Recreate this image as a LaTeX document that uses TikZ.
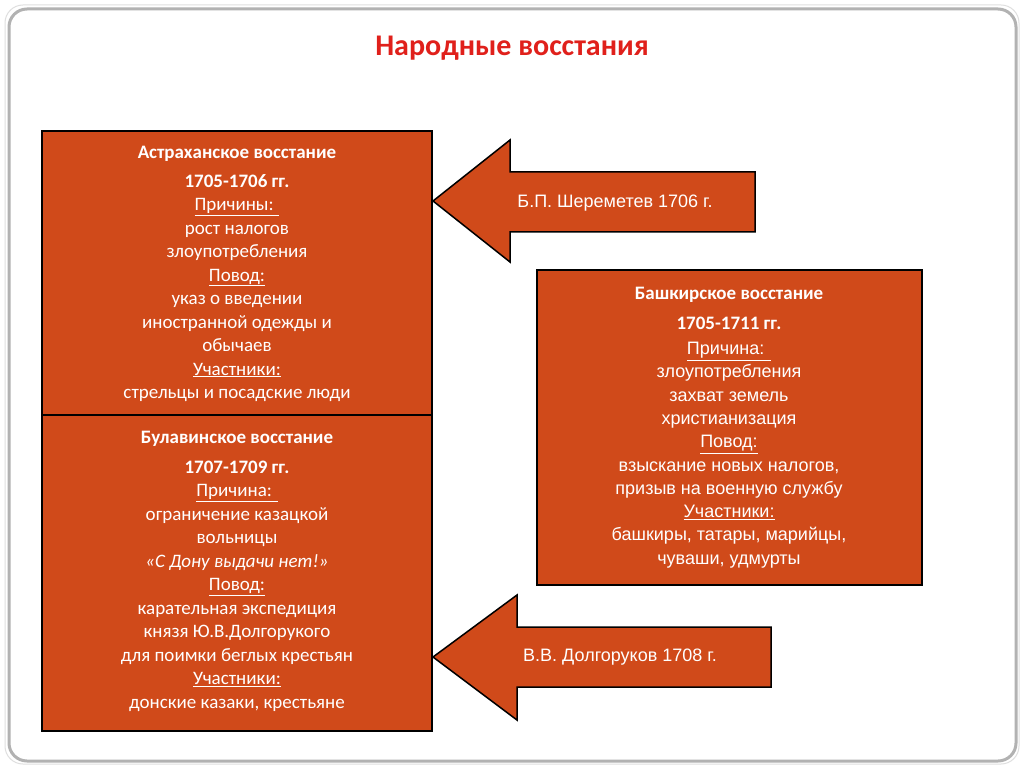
\documentclass[tikz,border=0pt]{standalone}
\usepackage{fontspec}
\setmainfont{Carlito}
\newfontfamily\arialf{Liberation Sans}
\newcommand\myul[1]{\underline{#1}}
\begin{document}
\begin{tikzpicture}[x=1pt,y=-1pt,
  boxst/.style={draw=black,line width=1.5pt,fill=boxc},
  txt/.style={text=white,align=center,font=\fontsize{19}{23.5}\selectfont,inner sep=0pt},
  rtxt/.style={text=white,align=center,font=\arialf\fontsize{18}{23.3}\selectfont,inner sep=0pt},
  arr/.style={draw=black,line width=1.5pt,fill=boxc}]
\definecolor{boxc}{HTML}{D04A1A}
\definecolor{titc}{HTML}{E0201B}
\useasboundingbox (0,0) rectangle (1024,767);
\fill[white] (0,0) rectangle (1024,767);
\draw[gray!60,line width=3pt,rounded corners=18pt] (9,9) rectangle (1016,761);
\draw[gray!25,line width=1pt,rounded corners=18pt] (5,5) rectangle (1019,764);
\node[text=titc,font=\bfseries\fontsize{30}{36}\selectfont] (title) at (512,48) {Народные восстания};
% boxes
\draw[boxst] (42,131) rectangle (432,415);
\draw[boxst] (42,415) rectangle (432,731);
\draw[boxst] (537,270) rectangle (922,585);
% arrows
\draw[arr] (433,201) -- (510,140) -- (510,172) -- (755,172) -- (755,232) -- (510,232) -- (510,262) -- cycle;
\draw[arr] (433,657) -- (517,595) -- (517,627) -- (771,627) -- (771,687) -- (517,687) -- (517,720) -- cycle;
\node[rtxt] (a1) at (615,203) {Б.П. Шереметев 1706 г.};
\node[rtxt] (a2) at (620,657) {В.В. Долгоруков 1708 г.};
% box A
\node[txt,anchor=north] (tA) at (237,146) {\textbf{Астраханское восстание}\\[5pt]
\textbf{1705-1706 гг.}\\
\myul{Причины: }\\
рост налогов\\
злоупотребления\\
\myul{Повод:}\\
указ о введении\\
иностранной одежды и\\
обычаев\\
\myul{Участники:}\\
стрельцы и посадские люди};
% box B
\node[txt,anchor=north] (tB) at (237,431) {\textbf{Булавинское восстание}\\[6pt]
\textbf{1707-1709 гг.}\\
\myul{Причина: }\\
ограничение казацкой\\
вольницы\\
\textit{«С Дону выдачи нет!»}\\
\myul{Повод:}\\
карательная экспедиция\\
князя Ю.В.Долгорукого\\
для поимки беглых крестьян\\
\myul{Участники:}\\
донские казаки, крестьяне};
% box C
\node[txt,anchor=north] (tC1) at (729,287) {\textbf{Башкирское восстание}\\[6pt]
\textbf{1705-1711 гг.}};
\node[rtxt,anchor=north] (tC) at (729,342) {\myul{Причина: }\\
злоупотребления\\
захват земель\\
христианизация\\
\myul{Повод:}\\
взыскание новых налогов,\\
призыв на военную службу\\
\myul{Участники:}\\
башкиры, татары, марийцы,\\
чуваши, удмурты};
\end{tikzpicture}
\end{document}
